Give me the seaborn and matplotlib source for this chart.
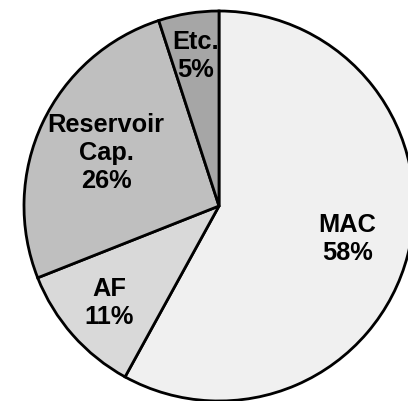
import numpy as np
import matplotlib
matplotlib.use("Agg")
import matplotlib.pyplot as plt
import seaborn as sns

sns.set_theme(style="white")
plt.rcParams['font.family'] = ['Liberation Sans', 'DejaVu Sans']

categories = ["MAC", "AF", "Reservoir\nCap.", "Etc."]
values = [58, 11, 26, 5]

colors = ["#f0f0f0", "#d9d9d9", "#bfbfbf", "#a6a6a6"]
label_radius = [0.68, 0.75, 0.64, 0.78]

W, H = 408, 401
fig = plt.figure(figsize=(W / 100, H / 100), dpi=100)
ax = fig.add_axes([0, 0, 1, 1])

cx, cy, R = 219, 206, 195
wedges, _ = ax.pie(values, colors=colors, startangle=90, counterclock=False,
                   wedgeprops=dict(edgecolor="black", linewidth=2.0),
                   radius=1.0)
ax.set_aspect('auto')
ax.set_xlim(-cx / R, (W - cx) / R)
ax.set_ylim(-(H - cy) / R, cy / R)

for w, cat, v, r in zip(wedges, categories, values, label_radius):
    ang = np.deg2rad((w.theta1 + w.theta2) / 2)
    ax.text(r * np.cos(ang), r * np.sin(ang), f"{cat}\n{v}%",
            ha="center", va="center", fontsize=18.3, fontweight="bold",
            linespacing=1.2, color="black")

ax.axis("off")
fig.savefig("out.png", dpi=100, facecolor="white")
